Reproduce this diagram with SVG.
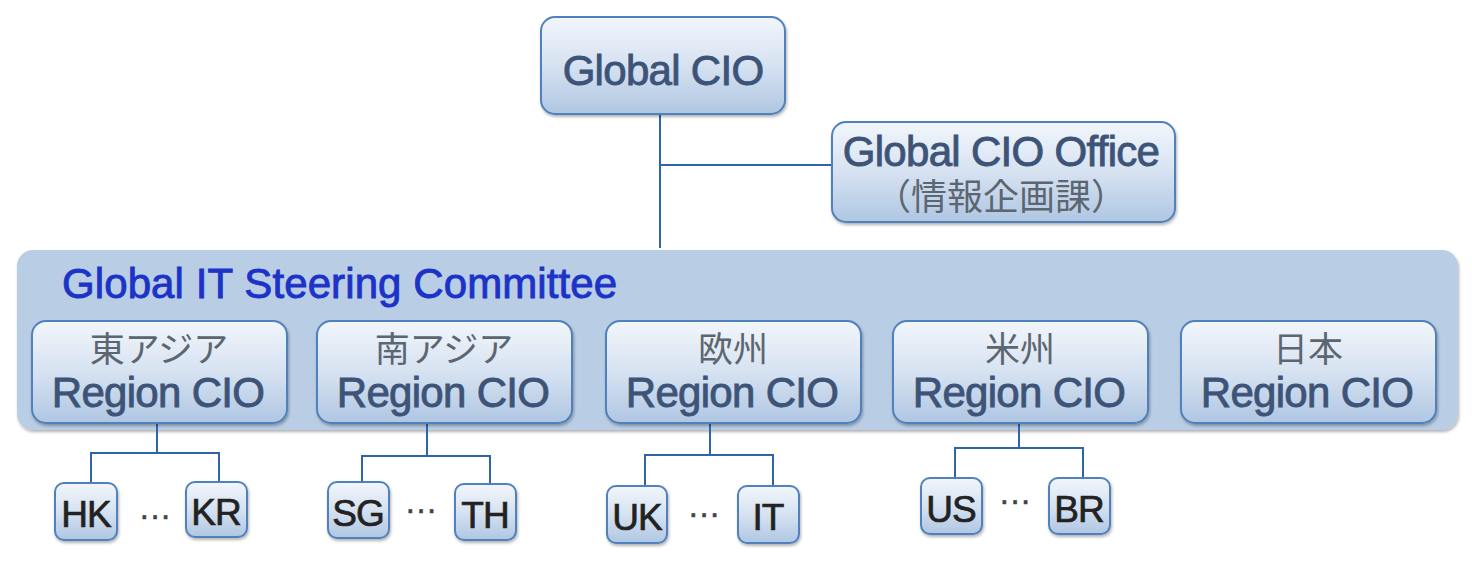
<svg xmlns="http://www.w3.org/2000/svg" width="1472" height="572" viewBox="0 0 1472 572">
<defs>
<linearGradient id="g" x1="0" y1="0" x2="0" y2="1">
<stop offset="0" stop-color="#f2f6fb"/>
<stop offset="0.5" stop-color="#d6e2f1"/>
<stop offset="1" stop-color="#afc6e2"/>
</linearGradient>
<filter id="sh" x="-10%" y="-10%" width="120%" height="130%">
<feDropShadow dx="1" dy="2" stdDeviation="1.5" flood-color="#000" flood-opacity="0.3"/>
</filter>
<style>
.box{fill:url(#g);stroke:#4f81bd;stroke-width:2;filter:url(#sh)}
.conn{fill:none;stroke:#2e64a8;stroke-width:2}
.t{font-family:"Liberation Sans",Arial,sans-serif;text-anchor:middle}
.main{fill:#3d5478;stroke:#3d5478;stroke-width:0.9;letter-spacing:-0.7px}
.jp{font-family:"Liberation Sans","Noto Sans CJK JP",sans-serif;fill:#5c6670;text-anchor:middle}
.leaf{fill:#222;stroke:#222;stroke-width:0.7;letter-spacing:-1px}
.dots{font-family:"Liberation Sans",sans-serif;fill:#444;stroke:#444;stroke-width:0.6;font-size:32px;text-anchor:middle}
</style>
</defs>
<rect width="1472" height="572" fill="#fff"/>

<g id="committee">
<rect x="17" y="250" width="1441" height="180" rx="16" fill="#b9cde5" filter="url(#sh)"/>
<text x="62" y="298" font-family="Liberation Sans,Arial,sans-serif" font-size="42" fill="#1c33c8" stroke="#1c33c8" stroke-width="0.9" letter-spacing="0.1">Global IT Steering Committee</text>
</g>

<g id="connectors">
<path class="conn" d="M660 114V248M660 165H832"/>
<path class="conn" d="M157 423V453M91 483V453H219V483"/>
<path class="conn" d="M427 423V456M362 484V456H490V484"/>
<path class="conn" d="M710 423V455M645 485V455H773V485"/>
<path class="conn" d="M1019 423V448M955 478V448H1083V478"/>
</g>

<g id="global-cio">
<rect class="box" x="541" y="17" width="244" height="97" rx="14"/>
<text class="t main" x="663" y="85" font-size="42">Global CIO</text>
</g>

<g id="global-cio-office">
<rect class="box" x="832" y="122" width="343" height="100" rx="14"/>
<text class="t main" x="1001" y="166" font-size="42">Global CIO Office</text>
<text class="jp" x="1001" y="210" font-size="36">（情報企画課）</text>
</g>

<g id="east-asia">
<rect class="box" x="32" y="321" width="255" height="102" rx="14"/>
<text class="jp" x="159" y="362" font-size="35">東アジア</text>
<text class="t main" x="158" y="407" font-size="42">Region CIO</text>
</g>
<g id="south-asia">
<rect class="box" x="317" y="321" width="255" height="102" rx="14"/>
<text class="jp" x="444" y="362" font-size="35">南アジア</text>
<text class="t main" x="443" y="407" font-size="42">Region CIO</text>
</g>
<g id="europe">
<rect class="box" x="606" y="321" width="255" height="102" rx="14"/>
<text class="jp" x="733" y="362" font-size="35">欧州</text>
<text class="t main" x="732" y="407" font-size="42">Region CIO</text>
</g>
<g id="americas">
<rect class="box" x="893" y="321" width="255" height="102" rx="14"/>
<text class="jp" x="1020" y="362" font-size="35">米州</text>
<text class="t main" x="1019" y="407" font-size="42">Region CIO</text>
</g>
<g id="japan">
<rect class="box" x="1181" y="321" width="255" height="102" rx="14"/>
<text class="jp" x="1308" y="362" font-size="35">日本</text>
<text class="t main" x="1307" y="407" font-size="42">Region CIO</text>
</g>

<g id="hk"><rect class="box" x="55" y="483" width="62" height="57" rx="9"/><text class="t leaf" x="86" y="527" font-size="37">HK</text></g>
<g id="kr"><rect class="box" x="186" y="482" width="61" height="55" rx="9"/><text class="t leaf" x="216" y="525" font-size="37">KR</text></g>
<g id="sg"><rect class="box" x="328" y="482" width="61" height="56" rx="9"/><text class="t leaf" x="358" y="526" font-size="37">SG</text></g>
<g id="th"><rect class="box" x="455" y="484" width="61" height="56" rx="9"/><text class="t leaf" x="485" y="528" font-size="37">TH</text></g>
<g id="uk"><rect class="box" x="607" y="486" width="60" height="57" rx="9"/><text class="t leaf" x="637" y="530" font-size="37">UK</text></g>
<g id="it"><rect class="box" x="738" y="486" width="61" height="57" rx="9"/><text class="t leaf" x="768" y="530" font-size="37">IT</text></g>
<g id="us"><rect class="box" x="921" y="478" width="61" height="56" rx="9"/><text class="t leaf" x="951" y="522" font-size="37">US</text></g>
<g id="br"><rect class="box" x="1049" y="478" width="61" height="56" rx="9"/><text class="t leaf" x="1079" y="522" font-size="37">BR</text></g>

<g id="ellipses">
<text class="dots" x="155" y="526">···</text>
<text class="dots" x="421" y="520">···</text>
<text class="dots" x="704" y="524">···</text>
<text class="dots" x="1015" y="511">···</text>
</g>
</svg>
